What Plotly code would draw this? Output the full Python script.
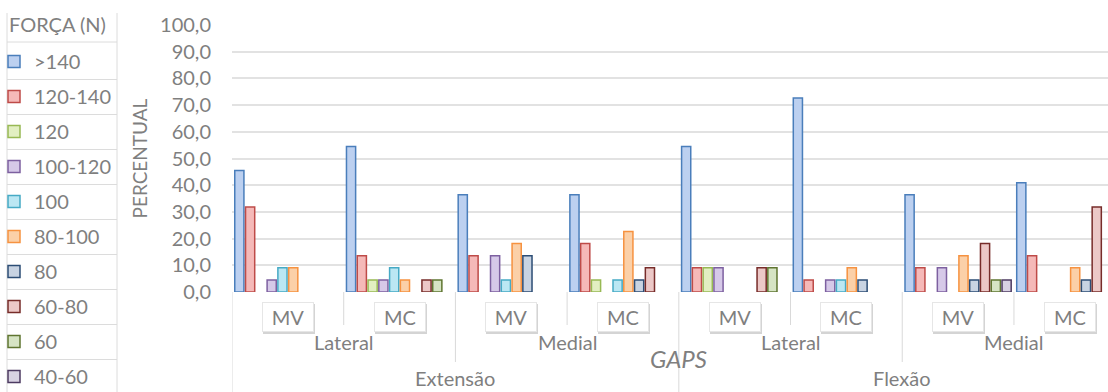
import plotly.graph_objects as go

# ---------------- data ----------------
level1 = ["Extensão", "Extensão", "Extensão", "Extensão", "Flexão", "Flexão", "Flexão", "Flexão"]
level2 = ["Lateral", "Lateral", "Medial", "Medial", "Lateral", "Lateral", "Medial", "Medial"]
level3 = ["MV", "MC", "MV", "MC", "MV", "MC", "MV", "MC"]

legend_title = "FORÇA (N)"
series_names = [">140", "120-140", "120", "100-120", "100", "80-100", "80", "60-80", "60", "40-60"]

s_gt140 = [45.5, 54.5, 36.4, 36.4, 54.5, 72.7, 36.4, 40.9]
s_120_140 = [31.8, 13.6, 13.6, 18.2, 9.1, 4.5, 9.1, 13.6]
s_120 = [0, 4.5, 0, 4.5, 9.1, 0, 0, 0]
s_100_120 = [4.5, 4.5, 13.6, 0, 9.1, 4.5, 9.1, 0]
s_100 = [9.1, 9.1, 4.5, 4.5, 0, 4.5, 0, 0]
s_80_100 = [9.1, 4.5, 18.2, 22.7, 0, 9.1, 13.6, 9.1]
s_80 = [0, 0, 13.6, 4.5, 0, 4.5, 4.5, 4.5]
s_60_80 = [0, 4.5, 0, 9.1, 9.1, 0, 18.2, 31.8]
s_60 = [0, 4.5, 0, 0, 9.1, 0, 4.5, 0]
s_40_60 = [0, 0, 0, 0, 0, 0, 4.5, 0]

y_ticks = [0, 10, 20, 30, 40, 50, 60, 70, 80, 90, 100]

# ---------------- styles ----------------
fills = ["#bcd0f0", "#f5b9b8", "#e2efc2", "#d6c9e8", "#bbe7f3", "#fbd0a8",
         "#c8d3e2", "#ecc8c7", "#d6e4c4", "#d8d2e2"]
lines = ["#4a7ebb", "#be4b48", "#98b954", "#7d60a0", "#46aac5", "#f69240",
         "#2c4d75", "#772c2a", "#5f7530", "#4d3b62"]
GRAY = "#7f7f7f"
FONT = "Lato"

W, H = 1108, 392
ML, MR, MT, MB = 232, 0, 25, 100
PW, PH = W - ML - MR, H - MT - MB
Y0 = H - MB


def px_x(px):
    return (px - ML) / PW


def px_y(py):
    return (Y0 - py) / PH


all_series = [s_gt140, s_120_140, s_120, s_100_120, s_100, s_80_100, s_80, s_60_80, s_60, s_40_60]
xs = list(range(len(level3)))

fig = go.Figure()
for name, vals, fc, lc in zip(series_names, all_series, fills, lines):
    fig.add_trace(go.Bar(
        x=xs, y=[v if v else None for v in vals], name=name, legendgroup=name,
        marker=dict(color=fc, line=dict(color=lc, width=1.5)),
    ))

annotations = []
shapes = []

# level 3 labels (boxed)
for i, lab in enumerate(level3):
    common = dict(x=i, xref="x", y=px_y(316.5), yref="paper", showarrow=False,
                  width=44, height=22, borderpad=3, borderwidth=1,
                  xanchor="center", yanchor="middle")
    annotations.append(dict(text=lab, font=dict(family=FONT, size=20, color="#d4d4d4"),
                            bgcolor="#d4d4d4", bordercolor="#d4d4d4",
                            xshift=1, yshift=-2, **common))
    annotations.append(dict(text=lab, font=dict(family=FONT, size=20, color=GRAY),
                            bgcolor="white", bordercolor="#e6e6e6", **common))


def spans(level):
    out = []
    start = 0
    for i in range(1, len(level) + 1):
        if i == len(level) or level[i] != level[start] or (level is level2 and level1[i] != level1[start]):
            out.append((level[start], start, i - 1))
            start = i
    return out


for lab, a, b in spans(level2):
    annotations.append(dict(text=lab, x=(a + b) / 2, xref="x", y=px_y(341.5), yref="paper",
                            showarrow=False, font=dict(family=FONT, size=20, color=GRAY),
                            xanchor="center", yanchor="middle"))
for lab, a, b in spans(level1):
    annotations.append(dict(text=lab, x=(a + b) / 2, xref="x", y=px_y(378), yref="paper",
                            showarrow=False, font=dict(family=FONT, size=20, color=GRAY),
                            xanchor="center", yanchor="middle"))

# axis titles
annotations.append(dict(text="<i>GAPS</i>", x=(len(level3) - 1) / 2, xref="x", y=px_y(358), yref="paper",
                        showarrow=False, font=dict(family=FONT, size=24, color=GRAY),
                        xanchor="center", yanchor="middle"))
annotations.append(dict(text="PERCENTUAL", x=px_x(139), xref="paper", y=0.5, yref="paper",
                        showarrow=False, textangle=-90, font=dict(family=FONT, size=19, color=GRAY),
                        xanchor="center", yanchor="middle"))
# legend title
annotations.append(dict(text=legend_title, x=px_x(7), xref="paper", y=px_y(24), yref="paper",
                        showarrow=False, font=dict(family=FONT, size=20, color=GRAY),
                        xanchor="left", yanchor="middle"))

# category separators
SEP = "#d9d9d9"
shapes.append(dict(type="line", xref="x", yref="paper", x0=-0.5, x1=-0.5, y0=0, y1=px_y(H),
                   line=dict(color=SEP, width=1)))
for i in range(1, len(level3)):
    if level1[i] != level1[i - 1]:
        depth = H
    elif level2[i] != level2[i - 1]:
        depth = 362
    else:
        depth = 325
    shapes.append(dict(type="line", xref="x", yref="paper", x0=i - 0.5, x1=i - 0.5, y0=0, y1=px_y(depth),
                       line=dict(color=SEP, width=1)))

# legend table lines
for yy in [42] + [79.5 + 35 * k for k in range(9)]:
    shapes.append(dict(type="line", xref="paper", yref="paper", x0=px_x(7), x1=px_x(117),
                       y0=px_y(yy), y1=px_y(yy), line=dict(color="#dcdcdc", width=1)))
for xx in [7, 117]:
    shapes.append(dict(type="line", xref="paper", yref="paper", x0=px_x(xx), x1=px_x(xx),
                       y0=px_y(13), y1=px_y(H), line=dict(color="#dcdcdc", width=1)))

fig.update_layout(
    width=W, height=H,
    margin=dict(l=ML, r=MR, t=MT, b=MB, autoexpand=False),
    paper_bgcolor="white", plot_bgcolor="white",
    separators=",.",
    font=dict(family=FONT, size=20, color=GRAY),
    barmode="group", bargap=0.035, bargroupgap=0.15,
    xaxis=dict(range=[-0.5, 7.342], showticklabels=False, showgrid=False, zeroline=False,
               showline=False, fixedrange=True),
    yaxis=dict(range=[0, 100], tickvals=y_ticks, tickformat=".1f", showgrid=True,
               gridcolor="#e2e2e2", gridwidth=2, zeroline=False, showline=False,
               ticks="", ticklabelstandoff=20, tickfont=dict(family=FONT, size=20, color=GRAY)),
    legend=dict(xref="paper", yref="paper", x=px_x(-6), y=px_y(42),
                xanchor="left", yanchor="top", traceorder="grouped", tracegroupgap=6,
                bgcolor="rgba(0,0,0,0)", borderwidth=0, maxheight=500,
                font=dict(family=FONT, size=20, color=GRAY)),
    annotations=annotations,
    shapes=shapes,
)

fig.write_html("out.html")
